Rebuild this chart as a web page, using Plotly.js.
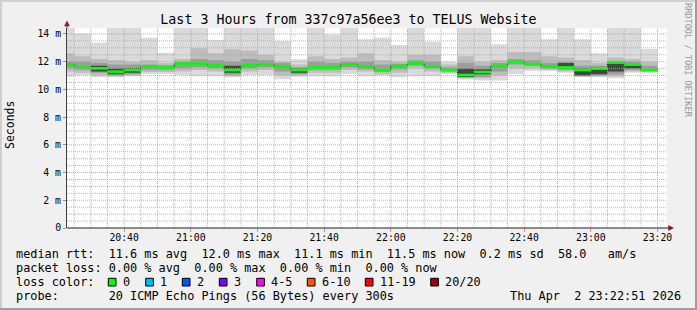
<!DOCTYPE html>
<html>
<head>
<meta charset="utf-8">
<script src="https://cdn.plot.ly/plotly-3.0.1.min.js"></script>
<style>html,body{margin:0;padding:0;background:#f0f0f0;}#chart{width:697px;height:310px;}</style>
</head>
<body>
<div id="chart"></div>
<script>
// ---- data (ms), one value per 5-minute bin starting 20:20 ----
var binStartMinutes = 20 * 60 + 20; // 20:20
var binMinutes = 5;
var median = [11.81,11.64,11.52,11.28,11.40,11.64,11.57,11.86,11.86,11.72,11.40,11.72,11.81,11.62,11.40,11.57,11.57,11.81,11.64,11.40,11.69,11.88,11.64,11.40,11.04,11.26,11.69,11.98,11.83,11.64,11.59,11.40,11.50,11.93,11.78,11.40];
var maxRtt = [15.0,14.04,13.37,15.0,15.0,13.73,12.65,15.0,15.0,13.56,15.0,15.0,15.0,13.49,12.17,15.0,13.97,15.0,13.61,13.73,13.20,15.0,13.44,12.00,15.0,15.0,13.25,15.0,15.0,13.61,15.0,13.61,12.60,15.0,15.0,12.92];
var hi2 = [12.6,12.4,12.2,12.1,12.0,12.1,11.9,12.2,12.96,12.6,12.9,12.8,12.5,12.0,11.8,12.4,12.2,12.3,12.6,12.1,12.0,12.5,12.5,11.8,12.4,12.0,12.1,12.7,12.7,12.4,12.3,12.1,11.9,12.3,12.2,12.0];
var hi3 = [12.0,12.0,11.9,11.8,11.8,11.8,11.75,12.0,12.2,12.1,12.0,12.2,12.1,11.9,11.6,12.0,11.9,12.0,12.0,11.8,11.85,12.1,12.0,11.6,11.9,11.7,11.9,12.2,12.1,11.9,12.0,11.7,11.7,12.05,12.0,11.7];
var hi4 = [11.81,11.64,11.7,11.5,11.55,11.64,11.57,11.86,11.86,11.72,11.7,11.72,11.81,11.62,11.5,11.57,11.57,11.81,11.64,11.40,11.69,11.88,11.64,11.40,11.5,11.45,11.69,11.98,11.83,11.64,11.9,11.5,11.5,11.95,11.8,11.40];
var lo4 = [11.81,11.64,11.3,11.1,11.2,11.64,11.57,11.86,11.86,11.72,11.2,11.72,11.81,11.62,11.2,11.57,11.57,11.81,11.64,11.40,11.69,11.88,11.64,11.40,10.9,11.1,11.69,11.98,11.83,11.64,11.5,11.0,11.1,11.3,11.5,11.40];
var lo3 = [11.5,11.4,11.2,11.0,11.1,11.4,11.4,11.5,11.6,11.5,11.05,11.5,11.6,11.3,11.1,11.4,11.4,11.6,11.45,11.25,11.45,11.7,11.5,11.3,10.85,10.9,11.3,11.8,11.7,11.5,11.4,10.95,11.0,11.1,11.4,11.35];
var lo2 = [11.3,11.2,11.0,10.95,11.0,11.25,11.25,11.3,11.4,11.3,10.95,11.3,11.4,11.0,11.0,11.2,11.2,11.4,11.3,11.1,11.2,11.5,11.3,11.2,10.8,10.8,11.0,11.5,11.5,11.4,11.3,10.93,10.95,10.95,11.3,11.25];
var minRtt = [10.92,11.04,10.87,10.87,10.95,11.11,11.11,11.04,10.95,10.95,10.87,11.04,11.04,10.73,10.92,10.95,10.95,11.1,10.95,11.0,10.87,10.95,10.95,11.1,10.72,10.65,10.65,11.1,11.35,11.35,11.2,10.92,10.87,10.8,11.2,11.2];
var yTickVals = [0,2,4,6,8,10,12,14];
var yTickText = ['0','2 m','4 m','6 m','8 m','10 m','12 m','14 m'];
var lossLabels = ['0','1','2','3','4-5','6-10','11-19','20/20'];
var lossColors = ['#00ff00','#00b8ff','#0059ff','#7e00ff','#ff00ff','#ff5500','#ff0000','#a10000'];
var legendLines = [
  'median rtt:  11.6 ms avg  12.0 ms max  11.1 ms min  11.5 ms now  0.2 ms sd  58.0   am/s',
  'packet loss: 0.00 % avg  0.00 % max  0.00 % min  0.00 % now',
  'loss color:',
  'probe:       20 ICMP Echo Pings (56 Bytes) every 300s'
];
var dateText = 'Thu Apr  2 23:22:51 2026';
var titleText = 'Last 3 Hours from 337c97a56ee3 to TELUS Website';

// ---- helpers ----
function pad(n){return (n<10?'0':'')+n;}
function timeAt(mins){var h=Math.floor(mins/60), m=mins%60; return '2026-04-02 '+pad(h)+':'+pad(m)+':00';}
var xs = [];
for (var i=0;i<=median.length;i++) xs.push(timeAt(binStartMinutes + i*binMinutes));
function ext(a){return a.concat([a[a.length-1]]);}
var mono = 'DejaVu Sans Mono, monospace';

var traces = [];
function band(lo, hi, color){
  traces.push({x:xs, y:ext(lo), type:'scatter', mode:'lines', line:{width:0, shape:'hv'}, hoverinfo:'skip', showlegend:false});
  traces.push({x:xs, y:ext(hi), type:'scatter', mode:'lines', fill:'tonexty', fillcolor:color, line:{width:0, shape:'hv'}, hoverinfo:'skip', showlegend:false});
}
band(minRtt, maxRtt, '#dadada');
band(lo2, hi2, '#bdbdbd');
band(lo3, hi3, '#9c9c9c');
band(lo4, hi4, '#454545');
// black median step line
traces.push({x:xs, y:ext(median), type:'scatter', mode:'lines', line:{width:1, shape:'hv', color:'#202020'}, hoverinfo:'skip', showlegend:false});
// green median segments per bin
var gx=[], gy=[];
for (var i=0;i<median.length;i++){ gx.push(xs[i], xs[i+1], null); gy.push(median[i], median[i], null); }
traces.push({x:gx, y:gy, type:'scatter', mode:'lines', line:{width:2.6, color:lossColors[0]}, hoverinfo:'skip', showlegend:false, connectgaps:false});

// ---- layout decoration ----
function px2x(px){return (px-67)/600;}
function py2y(py){return (228-py)/200;}
var shapes = [];
// grid (drawn above the smoke like rrdtool)
for (var k=1;k<=36;k++){
  var mins = binStartMinutes + k*binMinutes;
  if (mins > 23*60+20) break;
  var major = (mins % 20 === 0);
  shapes.push({type:'line', layer:'above', xref:'x', yref:'paper', x0:timeAt(mins), x1:timeAt(mins), y0:0, y1:1,
    line:{color: major?'rgba(250,120,120,0.8)':'rgba(170,170,170,0.85)', width:1, dash:'1px,1px'}});
}
for (var v=0.5; v<=14.01; v+=0.5){
  var majorY = (Math.abs(v/2 - Math.round(v/2))<1e-6);
  shapes.push({type:'line', layer:'above', xref:'paper', yref:'y', x0:0, x1:1, y0:v, y1:v,
    line:{color: majorY?'rgba(250,120,120,0.8)':'rgba(170,170,170,0.85)', width:1, dash:'1px,1px'}});
}
// axis arrows
var arrowColor = '#8b1a1a';
shapes.push({type:'line', xref:'paper', yref:'paper', x0:0, x1:0, y0:1, y1:py2y(26), line:{color:'#404040', width:1}});
shapes.push({type:'path', xref:'paper', yref:'paper', path:'M '+px2x(64.5)+' '+py2y(26)+' L '+px2x(69.5)+' '+py2y(26)+' L '+px2x(67)+' '+py2y(21)+' Z', fillcolor:arrowColor, line:{color:arrowColor, width:0.5}});
shapes.push({type:'line', xref:'paper', yref:'paper', x0:0, x1:px2x(669), y0:0, y1:0, line:{color:'#202020', width:1}});
shapes.push({type:'path', xref:'paper', yref:'paper', path:'M '+px2x(668.5)+' '+py2y(225.5)+' L '+px2x(668.5)+' '+py2y(230.5)+' L '+px2x(673.5)+' '+py2y(228)+' Z', fillcolor:arrowColor, line:{color:arrowColor, width:0.5}});
// frame (3D border)
shapes.push({type:'line', xref:'paper', yref:'paper', x0:px2x(0), x1:px2x(697), y0:py2y(1), y1:py2y(1), line:{color:'#cfcfcf', width:2}});
shapes.push({type:'line', xref:'paper', yref:'paper', x0:px2x(1), x1:px2x(1), y0:py2y(0), y1:py2y(310), line:{color:'#cfcfcf', width:2}});
shapes.push({type:'line', xref:'paper', yref:'paper', x0:px2x(0), x1:px2x(697), y0:py2y(309), y1:py2y(309), line:{color:'#9e9e9e', width:2}});
shapes.push({type:'line', xref:'paper', yref:'paper', x0:px2x(696), x1:px2x(696), y0:py2y(0), y1:py2y(310), line:{color:'#9e9e9e', width:2}});

var annotations = [];
function nb(s){return s.replace(/ /g,'\u00a0');}
var rowY = [254.3, 268.3, 282.3, 296.2];
var textSize = 11.85;
for (var r=0;r<legendLines.length;r++){
  annotations.push({xref:'paper', yref:'paper', x:px2x(13.5), y:py2y(rowY[r]), xanchor:'left', yanchor:'middle', showarrow:false,
    text:nb(legendLines[r]), font:{family:mono, size:textSize, color:'#000'}});
}
annotations.push({xref:'paper', yref:'paper', x:px2x(682.5), y:py2y(rowY[3]), xanchor:'right', yanchor:'middle', showarrow:false,
  text:nb(dateText), font:{family:mono, size:textSize, color:'#000'}});
var lossBoxX = [108.3,145.7,182.3,219.3,256.7,307.3,365.3,430.7];
for (var j=0;j<lossLabels.length;j++){
  shapes.push({type:'rect', xref:'paper', yref:'paper', x0:px2x(lossBoxX[j]), x1:px2x(lossBoxX[j]+7.7), y0:py2y(286), y1:py2y(278.3),
    fillcolor:lossColors[j], line:{color:'#000', width:1}});
  annotations.push({xref:'paper', yref:'paper', x:px2x(lossBoxX[j]+12.5), y:py2y(rowY[2]), xanchor:'left', yanchor:'middle', showarrow:false,
    text:nb(lossLabels[j]), font:{family:mono, size:textSize, color:'#000'}});
}
annotations.push({xref:'paper', yref:'paper', x:px2x(10), y:py2y(125), xanchor:'center', yanchor:'middle', showarrow:false, textangle:-90,
  text:'Seconds', font:{family:mono, size:11.5, color:'#000'}});
annotations.push({xref:'paper', yref:'paper', x:px2x(688), y:py2y(60), xanchor:'center', yanchor:'middle', showarrow:false, textangle:90,
  text:nb('RRDTOOL / TOBI OETIKER'), font:{family:mono, size:8.6, color:'#9a9a9a'}});

var layout = {
  width:697, height:310,
  margin:{l:67, r:30, t:28, b:82, pad:0},
  paper_bgcolor:'#f0f0f0', plot_bgcolor:'#ffffff',
  showlegend:false,
  title:{text:titleText, font:{family:mono, size:13.3, color:'#000'}, xref:'container', x:0.5, xanchor:'center', yref:'container', y:1-19/310, yanchor:'middle'},
  xaxis:{type:'date', range:['2026-04-02 20:22:51','2026-04-02 23:22:51'], showgrid:false, zeroline:false,
    tick0:'2026-04-02 20:40:00', dtick:20*60*1000, tickformat:'%H:%M',
    ticks:'outside', ticklen:3, tickcolor:'#ff8080', tickwidth:1, ticklabelstandoff:-3,
    tickfont:{family:mono, size:9.8, color:'#000'}, showline:false, fixedrange:true},
  yaxis:{range:[0,14.43], showgrid:false, zeroline:false, tickvals:yTickVals, ticktext:yTickText,
    ticks:'outside', ticklen:3, tickcolor:'#909090', tickfont:{family:mono, size:9.8, color:'#000'},
    showline:true, linecolor:'#404040', linewidth:1, fixedrange:true},
  shapes:shapes, annotations:annotations
};
Plotly.newPlot('chart', traces, layout, {staticPlot:true, displayModeBar:false});
</script>
</body>
</html>
